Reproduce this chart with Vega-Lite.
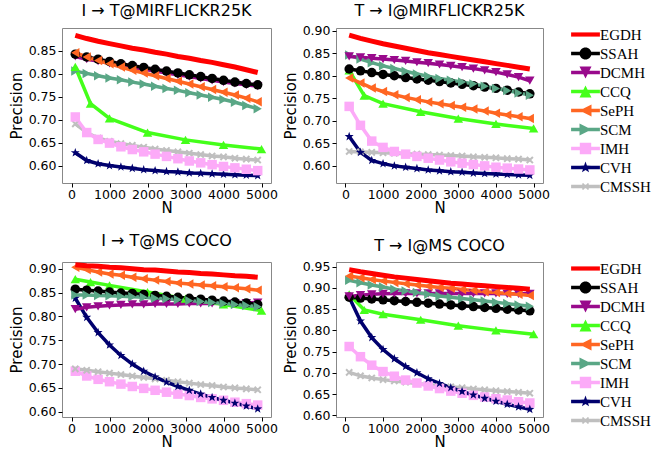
{
"$schema": "https://vega.github.io/schema/vega-lite/v6.json",
"padding": {"left": 8, "top": 2, "right": 2, "bottom": 0},
"config": {
  "font": "DejaVu Sans",
  "view": {"stroke": "#888888", "strokeWidth": 1},
  "axis": {"grid": false, "domain": false, "tickColor": "#000000", "tickSize": 4, "labelFontSize": 12.5, "labelColor": "#000000", "titleFontSize": 15, "titleFontWeight": "normal", "titleColor": "#000000", "labelPadding": 2},
  "axisY": {"titlePadding": 4},
  "axisX": {"titlePadding": 0, "labelPadding": 1},
  "title": {"fontSize": 16, "fontWeight": "normal", "offset": 6, "color": "#000000"},
  "legend": {"title": null}
},
"datasets": {
"tl": [
{"method":"EGDH","N":100,"precision":0.884},{"method":"EGDH","N":400,"precision":0.877},{"method":"EGDH","N":700,"precision":0.871},{"method":"EGDH","N":1000,"precision":0.866},{"method":"EGDH","N":1300,"precision":0.861},{"method":"EGDH","N":1600,"precision":0.856},{"method":"EGDH","N":1900,"precision":0.852},{"method":"EGDH","N":2200,"precision":0.847},{"method":"EGDH","N":2500,"precision":0.843},{"method":"EGDH","N":2800,"precision":0.838},{"method":"EGDH","N":3100,"precision":0.834},{"method":"EGDH","N":3400,"precision":0.829},{"method":"EGDH","N":3700,"precision":0.825},{"method":"EGDH","N":4000,"precision":0.820},{"method":"EGDH","N":4300,"precision":0.815},{"method":"EGDH","N":4600,"precision":0.809},{"method":"EGDH","N":4900,"precision":0.803},
{"method":"CMSSH","N":100,"precision":0.691},{"method":"CMSSH","N":400,"precision":0.672},{"method":"CMSSH","N":700,"precision":0.660},{"method":"CMSSH","N":1000,"precision":0.653},{"method":"CMSSH","N":1300,"precision":0.648},{"method":"CMSSH","N":1600,"precision":0.644},{"method":"CMSSH","N":1900,"precision":0.640},{"method":"CMSSH","N":2200,"precision":0.636},{"method":"CMSSH","N":2500,"precision":0.633},{"method":"CMSSH","N":2800,"precision":0.630},{"method":"CMSSH","N":3100,"precision":0.627},{"method":"CMSSH","N":3400,"precision":0.624},{"method":"CMSSH","N":3700,"precision":0.621},{"method":"CMSSH","N":4000,"precision":0.619},{"method":"CMSSH","N":4300,"precision":0.616},{"method":"CMSSH","N":4600,"precision":0.614},{"method":"CMSSH","N":4900,"precision":0.612},
{"method":"CVH","N":100,"precision":0.628},{"method":"CVH","N":400,"precision":0.611},{"method":"CVH","N":700,"precision":0.604},{"method":"CVH","N":1000,"precision":0.600},{"method":"CVH","N":1300,"precision":0.597},{"method":"CVH","N":1600,"precision":0.594},{"method":"CVH","N":1900,"precision":0.591},{"method":"CVH","N":2200,"precision":0.589},{"method":"CVH","N":2500,"precision":0.587},{"method":"CVH","N":2800,"precision":0.586},{"method":"CVH","N":3100,"precision":0.584},{"method":"CVH","N":3400,"precision":0.583},{"method":"CVH","N":3700,"precision":0.582},{"method":"CVH","N":4000,"precision":0.581},{"method":"CVH","N":4300,"precision":0.580},{"method":"CVH","N":4600,"precision":0.579},{"method":"CVH","N":4900,"precision":0.578},
{"method":"IMH","N":100,"precision":0.706},{"method":"IMH","N":400,"precision":0.672},{"method":"IMH","N":700,"precision":0.657},{"method":"IMH","N":1000,"precision":0.649},{"method":"IMH","N":1300,"precision":0.641},{"method":"IMH","N":1600,"precision":0.635},{"method":"IMH","N":1900,"precision":0.630},{"method":"IMH","N":2200,"precision":0.625},{"method":"IMH","N":2500,"precision":0.620},{"method":"IMH","N":2800,"precision":0.615},{"method":"IMH","N":3100,"precision":0.610},{"method":"IMH","N":3400,"precision":0.606},{"method":"IMH","N":3700,"precision":0.602},{"method":"IMH","N":4000,"precision":0.598},{"method":"IMH","N":4300,"precision":0.595},{"method":"IMH","N":4600,"precision":0.592},{"method":"IMH","N":4900,"precision":0.589},
{"method":"SCM","N":100,"precision":0.806},{"method":"SCM","N":400,"precision":0.801},{"method":"SCM","N":700,"precision":0.796},{"method":"SCM","N":1000,"precision":0.791},{"method":"SCM","N":1300,"precision":0.787},{"method":"SCM","N":1600,"precision":0.782},{"method":"SCM","N":1900,"precision":0.778},{"method":"SCM","N":2200,"precision":0.773},{"method":"SCM","N":2500,"precision":0.768},{"method":"SCM","N":2800,"precision":0.764},{"method":"SCM","N":3100,"precision":0.759},{"method":"SCM","N":3400,"precision":0.754},{"method":"SCM","N":3700,"precision":0.749},{"method":"SCM","N":4000,"precision":0.744},{"method":"SCM","N":4300,"precision":0.738},{"method":"SCM","N":4600,"precision":0.731},{"method":"SCM","N":4900,"precision":0.724},
{"method":"CCQ","N":100,"precision":0.815},{"method":"CCQ","N":500,"precision":0.735},{"method":"CCQ","N":1000,"precision":0.703},{"method":"CCQ","N":2000,"precision":0.672},{"method":"CCQ","N":3000,"precision":0.656},{"method":"CCQ","N":4000,"precision":0.645},{"method":"CCQ","N":5000,"precision":0.636},
{"method":"DCMH","N":100,"precision":0.838},{"method":"DCMH","N":400,"precision":0.832},{"method":"DCMH","N":700,"precision":0.828},{"method":"DCMH","N":1000,"precision":0.823},{"method":"DCMH","N":1300,"precision":0.818},{"method":"DCMH","N":1600,"precision":0.814},{"method":"DCMH","N":1900,"precision":0.810},{"method":"DCMH","N":2200,"precision":0.806},{"method":"DCMH","N":2500,"precision":0.802},{"method":"DCMH","N":2800,"precision":0.798},{"method":"DCMH","N":3100,"precision":0.794},{"method":"DCMH","N":3400,"precision":0.790},{"method":"DCMH","N":3700,"precision":0.786},{"method":"DCMH","N":4000,"precision":0.782},{"method":"DCMH","N":4300,"precision":0.779},{"method":"DCMH","N":4600,"precision":0.776},{"method":"DCMH","N":4900,"precision":0.773},
{"method":"SSAH","N":100,"precision":0.843},{"method":"SSAH","N":400,"precision":0.837},{"method":"SSAH","N":700,"precision":0.832},{"method":"SSAH","N":1000,"precision":0.827},{"method":"SSAH","N":1300,"precision":0.822},{"method":"SSAH","N":1600,"precision":0.818},{"method":"SSAH","N":1900,"precision":0.814},{"method":"SSAH","N":2200,"precision":0.810},{"method":"SSAH","N":2500,"precision":0.806},{"method":"SSAH","N":2800,"precision":0.802},{"method":"SSAH","N":3100,"precision":0.798},{"method":"SSAH","N":3400,"precision":0.794},{"method":"SSAH","N":3700,"precision":0.790},{"method":"SSAH","N":4000,"precision":0.786},{"method":"SSAH","N":4300,"precision":0.782},{"method":"SSAH","N":4600,"precision":0.779},{"method":"SSAH","N":4900,"precision":0.776},
{"method":"SePH","N":100,"precision":0.846},{"method":"SePH","N":400,"precision":0.837},{"method":"SePH","N":700,"precision":0.829},{"method":"SePH","N":1000,"precision":0.822},{"method":"SePH","N":1300,"precision":0.815},{"method":"SePH","N":1600,"precision":0.808},{"method":"SePH","N":1900,"precision":0.802},{"method":"SePH","N":2200,"precision":0.796},{"method":"SePH","N":2500,"precision":0.790},{"method":"SePH","N":2800,"precision":0.784},{"method":"SePH","N":3100,"precision":0.778},{"method":"SePH","N":3400,"precision":0.772},{"method":"SePH","N":3700,"precision":0.766},{"method":"SePH","N":4000,"precision":0.760},{"method":"SePH","N":4300,"precision":0.754},{"method":"SePH","N":4600,"precision":0.747},{"method":"SePH","N":4900,"precision":0.739}
],
"tr": [
{"method":"EGDH","N":100,"precision":0.890},{"method":"EGDH","N":400,"precision":0.883},{"method":"EGDH","N":700,"precision":0.877},{"method":"EGDH","N":1000,"precision":0.871},{"method":"EGDH","N":1300,"precision":0.866},{"method":"EGDH","N":1600,"precision":0.861},{"method":"EGDH","N":1900,"precision":0.856},{"method":"EGDH","N":2200,"precision":0.851},{"method":"EGDH","N":2500,"precision":0.847},{"method":"EGDH","N":2800,"precision":0.843},{"method":"EGDH","N":3100,"precision":0.839},{"method":"EGDH","N":3400,"precision":0.835},{"method":"EGDH","N":3700,"precision":0.831},{"method":"EGDH","N":4000,"precision":0.827},{"method":"EGDH","N":4300,"precision":0.823},{"method":"EGDH","N":4600,"precision":0.819},{"method":"EGDH","N":4900,"precision":0.815},
{"method":"CMSSH","N":100,"precision":0.632},{"method":"CMSSH","N":400,"precision":0.631},{"method":"CMSSH","N":700,"precision":0.630},{"method":"CMSSH","N":1000,"precision":0.629},{"method":"CMSSH","N":1300,"precision":0.628},{"method":"CMSSH","N":1600,"precision":0.627},{"method":"CMSSH","N":1900,"precision":0.626},{"method":"CMSSH","N":2200,"precision":0.625},{"method":"CMSSH","N":2500,"precision":0.624},{"method":"CMSSH","N":2800,"precision":0.623},{"method":"CMSSH","N":3100,"precision":0.622},{"method":"CMSSH","N":3400,"precision":0.620},{"method":"CMSSH","N":3700,"precision":0.619},{"method":"CMSSH","N":4000,"precision":0.618},{"method":"CMSSH","N":4300,"precision":0.616},{"method":"CMSSH","N":4600,"precision":0.615},{"method":"CMSSH","N":4900,"precision":0.613},
{"method":"CVH","N":100,"precision":0.665},{"method":"CVH","N":400,"precision":0.630},{"method":"CVH","N":700,"precision":0.612},{"method":"CVH","N":1000,"precision":0.605},{"method":"CVH","N":1300,"precision":0.600},{"method":"CVH","N":1600,"precision":0.597},{"method":"CVH","N":1900,"precision":0.594},{"method":"CVH","N":2200,"precision":0.591},{"method":"CVH","N":2500,"precision":0.589},{"method":"CVH","N":2800,"precision":0.587},{"method":"CVH","N":3100,"precision":0.586},{"method":"CVH","N":3400,"precision":0.584},{"method":"CVH","N":3700,"precision":0.583},{"method":"CVH","N":4000,"precision":0.582},{"method":"CVH","N":4300,"precision":0.581},{"method":"CVH","N":4600,"precision":0.580},{"method":"CVH","N":4900,"precision":0.579},
{"method":"IMH","N":100,"precision":0.732},{"method":"IMH","N":400,"precision":0.690},{"method":"IMH","N":700,"precision":0.655},{"method":"IMH","N":1000,"precision":0.641},{"method":"IMH","N":1300,"precision":0.632},{"method":"IMH","N":1600,"precision":0.626},{"method":"IMH","N":1900,"precision":0.621},{"method":"IMH","N":2200,"precision":0.617},{"method":"IMH","N":2500,"precision":0.613},{"method":"IMH","N":2800,"precision":0.609},{"method":"IMH","N":3100,"precision":0.606},{"method":"IMH","N":3400,"precision":0.603},{"method":"IMH","N":3700,"precision":0.600},{"method":"IMH","N":4000,"precision":0.597},{"method":"IMH","N":4300,"precision":0.595},{"method":"IMH","N":4600,"precision":0.593},{"method":"IMH","N":4900,"precision":0.591},
{"method":"CCQ","N":100,"precision":0.812},{"method":"CCQ","N":500,"precision":0.756},{"method":"CCQ","N":1000,"precision":0.738},{"method":"CCQ","N":2000,"precision":0.720},{"method":"CCQ","N":3000,"precision":0.705},{"method":"CCQ","N":4000,"precision":0.693},{"method":"CCQ","N":5000,"precision":0.683},
{"method":"SePH","N":100,"precision":0.795},{"method":"SePH","N":400,"precision":0.784},{"method":"SePH","N":700,"precision":0.773},{"method":"SePH","N":1000,"precision":0.765},{"method":"SePH","N":1300,"precision":0.758},{"method":"SePH","N":1600,"precision":0.752},{"method":"SePH","N":1900,"precision":0.747},{"method":"SePH","N":2200,"precision":0.742},{"method":"SePH","N":2500,"precision":0.738},{"method":"SePH","N":2800,"precision":0.734},{"method":"SePH","N":3100,"precision":0.730},{"method":"SePH","N":3400,"precision":0.726},{"method":"SePH","N":3700,"precision":0.722},{"method":"SePH","N":4000,"precision":0.717},{"method":"SePH","N":4300,"precision":0.713},{"method":"SePH","N":4600,"precision":0.709},{"method":"SePH","N":4900,"precision":0.705},
{"method":"SSAH","N":100,"precision":0.815},{"method":"SSAH","N":400,"precision":0.811},{"method":"SSAH","N":700,"precision":0.807},{"method":"SSAH","N":1000,"precision":0.803},{"method":"SSAH","N":1300,"precision":0.800},{"method":"SSAH","N":1600,"precision":0.796},{"method":"SSAH","N":1900,"precision":0.793},{"method":"SSAH","N":2200,"precision":0.790},{"method":"SSAH","N":2500,"precision":0.787},{"method":"SSAH","N":2800,"precision":0.784},{"method":"SSAH","N":3100,"precision":0.781},{"method":"SSAH","N":3400,"precision":0.778},{"method":"SSAH","N":3700,"precision":0.775},{"method":"SSAH","N":4000,"precision":0.772},{"method":"SSAH","N":4300,"precision":0.768},{"method":"SSAH","N":4600,"precision":0.764},{"method":"SSAH","N":4900,"precision":0.760},
{"method":"SCM","N":100,"precision":0.846},{"method":"SCM","N":400,"precision":0.837},{"method":"SCM","N":700,"precision":0.829},{"method":"SCM","N":1000,"precision":0.822},{"method":"SCM","N":1300,"precision":0.816},{"method":"SCM","N":1600,"precision":0.810},{"method":"SCM","N":1900,"precision":0.804},{"method":"SCM","N":2200,"precision":0.799},{"method":"SCM","N":2500,"precision":0.794},{"method":"SCM","N":2800,"precision":0.790},{"method":"SCM","N":3100,"precision":0.786},{"method":"SCM","N":3400,"precision":0.782},{"method":"SCM","N":3700,"precision":0.777},{"method":"SCM","N":4000,"precision":0.772},{"method":"SCM","N":4300,"precision":0.767},{"method":"SCM","N":4600,"precision":0.762},{"method":"SCM","N":4900,"precision":0.757},
{"method":"DCMH","N":100,"precision":0.843},{"method":"DCMH","N":400,"precision":0.841},{"method":"DCMH","N":700,"precision":0.839},{"method":"DCMH","N":1000,"precision":0.837},{"method":"DCMH","N":1300,"precision":0.835},{"method":"DCMH","N":1600,"precision":0.833},{"method":"DCMH","N":1900,"precision":0.830},{"method":"DCMH","N":2200,"precision":0.828},{"method":"DCMH","N":2500,"precision":0.825},{"method":"DCMH","N":2800,"precision":0.822},{"method":"DCMH","N":3100,"precision":0.819},{"method":"DCMH","N":3400,"precision":0.816},{"method":"DCMH","N":3700,"precision":0.812},{"method":"DCMH","N":4000,"precision":0.808},{"method":"DCMH","N":4300,"precision":0.803},{"method":"DCMH","N":4600,"precision":0.797},{"method":"DCMH","N":4900,"precision":0.789}
],
"bl": [
{"method":"EGDH","N":100,"precision":0.908},{"method":"EGDH","N":400,"precision":0.906},{"method":"EGDH","N":700,"precision":0.905},{"method":"EGDH","N":1000,"precision":0.903},{"method":"EGDH","N":1300,"precision":0.902},{"method":"EGDH","N":1600,"precision":0.900},{"method":"EGDH","N":1900,"precision":0.898},{"method":"EGDH","N":2200,"precision":0.897},{"method":"EGDH","N":2500,"precision":0.895},{"method":"EGDH","N":2800,"precision":0.893},{"method":"EGDH","N":3100,"precision":0.892},{"method":"EGDH","N":3400,"precision":0.890},{"method":"EGDH","N":3700,"precision":0.889},{"method":"EGDH","N":4000,"precision":0.887},{"method":"EGDH","N":4300,"precision":0.885},{"method":"EGDH","N":4600,"precision":0.884},{"method":"EGDH","N":4900,"precision":0.882},
{"method":"IMH","N":100,"precision":0.685},{"method":"IMH","N":400,"precision":0.675},{"method":"IMH","N":700,"precision":0.668},{"method":"IMH","N":1000,"precision":0.663},{"method":"IMH","N":1300,"precision":0.658},{"method":"IMH","N":1600,"precision":0.653},{"method":"IMH","N":1900,"precision":0.649},{"method":"IMH","N":2200,"precision":0.645},{"method":"IMH","N":2500,"precision":0.641},{"method":"IMH","N":2800,"precision":0.637},{"method":"IMH","N":3100,"precision":0.634},{"method":"IMH","N":3400,"precision":0.630},{"method":"IMH","N":3700,"precision":0.627},{"method":"IMH","N":4000,"precision":0.624},{"method":"IMH","N":4300,"precision":0.620},{"method":"IMH","N":4600,"precision":0.617},{"method":"IMH","N":4900,"precision":0.614},
{"method":"CMSSH","N":100,"precision":0.690},{"method":"CMSSH","N":400,"precision":0.687},{"method":"CMSSH","N":700,"precision":0.684},{"method":"CMSSH","N":1000,"precision":0.681},{"method":"CMSSH","N":1300,"precision":0.678},{"method":"CMSSH","N":1600,"precision":0.675},{"method":"CMSSH","N":1900,"precision":0.672},{"method":"CMSSH","N":2200,"precision":0.669},{"method":"CMSSH","N":2500,"precision":0.666},{"method":"CMSSH","N":2800,"precision":0.663},{"method":"CMSSH","N":3100,"precision":0.660},{"method":"CMSSH","N":3400,"precision":0.657},{"method":"CMSSH","N":3700,"precision":0.655},{"method":"CMSSH","N":4000,"precision":0.652},{"method":"CMSSH","N":4300,"precision":0.650},{"method":"CMSSH","N":4600,"precision":0.648},{"method":"CMSSH","N":4900,"precision":0.646},
{"method":"CVH","N":100,"precision":0.838},{"method":"CVH","N":400,"precision":0.798},{"method":"CVH","N":700,"precision":0.766},{"method":"CVH","N":1000,"precision":0.740},{"method":"CVH","N":1300,"precision":0.718},{"method":"CVH","N":1600,"precision":0.700},{"method":"CVH","N":1900,"precision":0.685},{"method":"CVH","N":2200,"precision":0.673},{"method":"CVH","N":2500,"precision":0.662},{"method":"CVH","N":2800,"precision":0.653},{"method":"CVH","N":3100,"precision":0.645},{"method":"CVH","N":3400,"precision":0.637},{"method":"CVH","N":3700,"precision":0.630},{"method":"CVH","N":4000,"precision":0.624},{"method":"CVH","N":4300,"precision":0.618},{"method":"CVH","N":4600,"precision":0.612},{"method":"CVH","N":4900,"precision":0.606},
{"method":"DCMH","N":100,"precision":0.815},{"method":"DCMH","N":400,"precision":0.819},{"method":"DCMH","N":700,"precision":0.821},{"method":"DCMH","N":1000,"precision":0.823},{"method":"DCMH","N":1300,"precision":0.824},{"method":"DCMH","N":1600,"precision":0.825},{"method":"DCMH","N":1900,"precision":0.825},{"method":"DCMH","N":2200,"precision":0.826},{"method":"DCMH","N":2500,"precision":0.826},{"method":"DCMH","N":2800,"precision":0.826},{"method":"DCMH","N":3100,"precision":0.827},{"method":"DCMH","N":3400,"precision":0.827},{"method":"DCMH","N":3700,"precision":0.827},{"method":"DCMH","N":4000,"precision":0.828},{"method":"DCMH","N":4300,"precision":0.828},{"method":"DCMH","N":4600,"precision":0.828},{"method":"DCMH","N":4900,"precision":0.829},
{"method":"CCQ","N":100,"precision":0.878},{"method":"CCQ","N":500,"precision":0.872},{"method":"CCQ","N":1000,"precision":0.865},{"method":"CCQ","N":2000,"precision":0.851},{"method":"CCQ","N":3000,"precision":0.837},{"method":"CCQ","N":4000,"precision":0.825},{"method":"CCQ","N":5000,"precision":0.812},
{"method":"SSAH","N":100,"precision":0.857},{"method":"SSAH","N":400,"precision":0.855},{"method":"SSAH","N":700,"precision":0.853},{"method":"SSAH","N":1000,"precision":0.851},{"method":"SSAH","N":1300,"precision":0.849},{"method":"SSAH","N":1600,"precision":0.848},{"method":"SSAH","N":1900,"precision":0.846},{"method":"SSAH","N":2200,"precision":0.844},{"method":"SSAH","N":2500,"precision":0.842},{"method":"SSAH","N":2800,"precision":0.840},{"method":"SSAH","N":3100,"precision":0.838},{"method":"SSAH","N":3400,"precision":0.836},{"method":"SSAH","N":3700,"precision":0.834},{"method":"SSAH","N":4000,"precision":0.832},{"method":"SSAH","N":4300,"precision":0.830},{"method":"SSAH","N":4600,"precision":0.828},{"method":"SSAH","N":4900,"precision":0.825},
{"method":"SCM","N":100,"precision":0.845},{"method":"SCM","N":400,"precision":0.845},{"method":"SCM","N":700,"precision":0.844},{"method":"SCM","N":1000,"precision":0.843},{"method":"SCM","N":1300,"precision":0.842},{"method":"SCM","N":1600,"precision":0.841},{"method":"SCM","N":1900,"precision":0.840},{"method":"SCM","N":2200,"precision":0.838},{"method":"SCM","N":2500,"precision":0.837},{"method":"SCM","N":2800,"precision":0.835},{"method":"SCM","N":3100,"precision":0.833},{"method":"SCM","N":3400,"precision":0.831},{"method":"SCM","N":3700,"precision":0.829},{"method":"SCM","N":4000,"precision":0.827},{"method":"SCM","N":4300,"precision":0.825},{"method":"SCM","N":4600,"precision":0.823},{"method":"SCM","N":4900,"precision":0.820},
{"method":"SePH","N":100,"precision":0.903},{"method":"SePH","N":400,"precision":0.898},{"method":"SePH","N":700,"precision":0.893},{"method":"SePH","N":1000,"precision":0.889},{"method":"SePH","N":1300,"precision":0.886},{"method":"SePH","N":1600,"precision":0.882},{"method":"SePH","N":1900,"precision":0.879},{"method":"SePH","N":2200,"precision":0.876},{"method":"SePH","N":2500,"precision":0.873},{"method":"SePH","N":2800,"precision":0.870},{"method":"SePH","N":3100,"precision":0.868},{"method":"SePH","N":3400,"precision":0.866},{"method":"SePH","N":3700,"precision":0.864},{"method":"SePH","N":4000,"precision":0.862},{"method":"SePH","N":4300,"precision":0.860},{"method":"SePH","N":4600,"precision":0.858},{"method":"SePH","N":4900,"precision":0.855}
],
"br": [
{"method":"EGDH","N":100,"precision":0.943},{"method":"EGDH","N":400,"precision":0.938},{"method":"EGDH","N":700,"precision":0.934},{"method":"EGDH","N":1000,"precision":0.930},{"method":"EGDH","N":1300,"precision":0.926},{"method":"EGDH","N":1600,"precision":0.923},{"method":"EGDH","N":1900,"precision":0.920},{"method":"EGDH","N":2200,"precision":0.917},{"method":"EGDH","N":2500,"precision":0.914},{"method":"EGDH","N":2800,"precision":0.911},{"method":"EGDH","N":3100,"precision":0.909},{"method":"EGDH","N":3400,"precision":0.907},{"method":"EGDH","N":3700,"precision":0.905},{"method":"EGDH","N":4000,"precision":0.903},{"method":"EGDH","N":4300,"precision":0.901},{"method":"EGDH","N":4600,"precision":0.899},{"method":"EGDH","N":4900,"precision":0.897},
{"method":"CMSSH","N":100,"precision":0.701},{"method":"CMSSH","N":400,"precision":0.693},{"method":"CMSSH","N":700,"precision":0.688},{"method":"CMSSH","N":1000,"precision":0.684},{"method":"CMSSH","N":1300,"precision":0.681},{"method":"CMSSH","N":1600,"precision":0.678},{"method":"CMSSH","N":1900,"precision":0.675},{"method":"CMSSH","N":2200,"precision":0.672},{"method":"CMSSH","N":2500,"precision":0.670},{"method":"CMSSH","N":2800,"precision":0.667},{"method":"CMSSH","N":3100,"precision":0.665},{"method":"CMSSH","N":3400,"precision":0.662},{"method":"CMSSH","N":3700,"precision":0.660},{"method":"CMSSH","N":4000,"precision":0.658},{"method":"CMSSH","N":4300,"precision":0.656},{"method":"CMSSH","N":4600,"precision":0.654},{"method":"CMSSH","N":4900,"precision":0.652},
{"method":"IMH","N":100,"precision":0.762},{"method":"IMH","N":400,"precision":0.738},{"method":"IMH","N":700,"precision":0.718},{"method":"IMH","N":1000,"precision":0.703},{"method":"IMH","N":1300,"precision":0.692},{"method":"IMH","N":1600,"precision":0.683},{"method":"IMH","N":1900,"precision":0.676},{"method":"IMH","N":2200,"precision":0.669},{"method":"IMH","N":2500,"precision":0.663},{"method":"IMH","N":2800,"precision":0.657},{"method":"IMH","N":3100,"precision":0.652},{"method":"IMH","N":3400,"precision":0.647},{"method":"IMH","N":3700,"precision":0.643},{"method":"IMH","N":4000,"precision":0.639},{"method":"IMH","N":4300,"precision":0.636},{"method":"IMH","N":4600,"precision":0.632},{"method":"IMH","N":4900,"precision":0.629},
{"method":"CVH","N":100,"precision":0.878},{"method":"CVH","N":400,"precision":0.822},{"method":"CVH","N":700,"precision":0.783},{"method":"CVH","N":1000,"precision":0.755},{"method":"CVH","N":1300,"precision":0.733},{"method":"CVH","N":1600,"precision":0.715},{"method":"CVH","N":1900,"precision":0.700},{"method":"CVH","N":2200,"precision":0.686},{"method":"CVH","N":2500,"precision":0.675},{"method":"CVH","N":2800,"precision":0.665},{"method":"CVH","N":3100,"precision":0.656},{"method":"CVH","N":3400,"precision":0.648},{"method":"CVH","N":3700,"precision":0.640},{"method":"CVH","N":4000,"precision":0.633},{"method":"CVH","N":4300,"precision":0.626},{"method":"CVH","N":4600,"precision":0.620},{"method":"CVH","N":4900,"precision":0.614},
{"method":"CCQ","N":100,"precision":0.885},{"method":"CCQ","N":500,"precision":0.848},{"method":"CCQ","N":1000,"precision":0.838},{"method":"CCQ","N":2000,"precision":0.825},{"method":"CCQ","N":3000,"precision":0.811},{"method":"CCQ","N":4000,"precision":0.800},{"method":"CCQ","N":5000,"precision":0.791},
{"method":"SSAH","N":100,"precision":0.878},{"method":"SSAH","N":400,"precision":0.876},{"method":"SSAH","N":700,"precision":0.874},{"method":"SSAH","N":1000,"precision":0.872},{"method":"SSAH","N":1300,"precision":0.870},{"method":"SSAH","N":1600,"precision":0.868},{"method":"SSAH","N":1900,"precision":0.866},{"method":"SSAH","N":2200,"precision":0.864},{"method":"SSAH","N":2500,"precision":0.862},{"method":"SSAH","N":2800,"precision":0.860},{"method":"SSAH","N":3100,"precision":0.858},{"method":"SSAH","N":3400,"precision":0.856},{"method":"SSAH","N":3700,"precision":0.854},{"method":"SSAH","N":4000,"precision":0.852},{"method":"SSAH","N":4300,"precision":0.850},{"method":"SSAH","N":4600,"precision":0.848},{"method":"SSAH","N":4900,"precision":0.846},
{"method":"DCMH","N":100,"precision":0.880},{"method":"DCMH","N":400,"precision":0.883},{"method":"DCMH","N":700,"precision":0.885},{"method":"DCMH","N":1000,"precision":0.886},{"method":"DCMH","N":1300,"precision":0.887},{"method":"DCMH","N":1600,"precision":0.887},{"method":"DCMH","N":1900,"precision":0.887},{"method":"DCMH","N":2200,"precision":0.887},{"method":"DCMH","N":2500,"precision":0.887},{"method":"DCMH","N":2800,"precision":0.887},{"method":"DCMH","N":3100,"precision":0.887},{"method":"DCMH","N":3400,"precision":0.887},{"method":"DCMH","N":3700,"precision":0.887},{"method":"DCMH","N":4000,"precision":0.887},{"method":"DCMH","N":4300,"precision":0.886},{"method":"DCMH","N":4600,"precision":0.886},{"method":"DCMH","N":4900,"precision":0.886},
{"method":"SCM","N":100,"precision":0.918},{"method":"SCM","N":400,"precision":0.912},{"method":"SCM","N":700,"precision":0.907},{"method":"SCM","N":1000,"precision":0.902},{"method":"SCM","N":1300,"precision":0.897},{"method":"SCM","N":1600,"precision":0.893},{"method":"SCM","N":1900,"precision":0.889},{"method":"SCM","N":2200,"precision":0.885},{"method":"SCM","N":2500,"precision":0.881},{"method":"SCM","N":2800,"precision":0.878},{"method":"SCM","N":3100,"precision":0.875},{"method":"SCM","N":3400,"precision":0.872},{"method":"SCM","N":3700,"precision":0.869},{"method":"SCM","N":4000,"precision":0.866},{"method":"SCM","N":4300,"precision":0.863},{"method":"SCM","N":4600,"precision":0.860},{"method":"SCM","N":4900,"precision":0.857},
{"method":"SePH","N":100,"precision":0.928},{"method":"SePH","N":400,"precision":0.924},{"method":"SePH","N":700,"precision":0.920},{"method":"SePH","N":1000,"precision":0.916},{"method":"SePH","N":1300,"precision":0.913},{"method":"SePH","N":1600,"precision":0.910},{"method":"SePH","N":1900,"precision":0.907},{"method":"SePH","N":2200,"precision":0.904},{"method":"SePH","N":2500,"precision":0.901},{"method":"SePH","N":2800,"precision":0.899},{"method":"SePH","N":3100,"precision":0.896},{"method":"SePH","N":3400,"precision":0.894},{"method":"SePH","N":3700,"precision":0.891},{"method":"SePH","N":4000,"precision":0.889},{"method":"SePH","N":4300,"precision":0.887},{"method":"SePH","N":4600,"precision":0.885},{"method":"SePH","N":4900,"precision":0.882}
]
},
"vconcat": [
{
"hconcat": [
{
"data": {"name": "tl"}, "width": 209, "height": 155, "title": "I → T@MIRFLICKR25K",
"encoding": {
"x": {"field": "N", "type": "quantitative", "scale": {"domain": [-250, 5250], "nice": false, "zero": false}, "axis": {"values": [0,1000,2000,3000,4000,5000], "format": "d", "title": "N"}},
"y": {"field": "precision", "type": "quantitative", "scale": {"domain": [0.562, 0.9], "nice": false, "zero": false}, "axis": {"values": [0.6,0.65,0.7,0.75,0.8,0.85], "format": ".2f", "title": "Precision"}},
"color": {"field": "method", "type": "nominal", "scale": {"domain": ["EGDH","SSAH","DCMH","CCQ","SePH","SCM","IMH","CVH","CMSSH"], "range": ["#ff0000","#000000","#990a8c","#44ff1a","#ff6622","#5aa786","#fcaaf8","#00006e","#bfbfbf"]},
  "legend": {"orient": "none", "legendX": 516, "legendY": -1, "padding": 0, "labelFont": "Liberation Serif", "labelFontSize": 15, "labelColor": "#000000", "symbolSize": 144, "rowPadding": 3, "labelOffset": 7,
   "encode": {"symbols": {"update": {
     "shape": {"signal": "['M-2.4,-0.35H2.4V0.35H-2.4Z','M-2.4,-0.3H2.4V0.3H-2.4ZM-1,0A1,1 0 1,1 1,0A1,1 0 1,1 -1,0Z','M-2.4,-0.3H2.4V0.3H-2.4ZM-1,-1L1,-1L0,1Z','M-2.4,-0.3H2.4V0.3H-2.4ZM-1,1L0,-1L1,1Z','M-2.4,-0.3H2.4V0.3H-2.4ZM1,-1L1,1L-1,0Z','M-2.4,-0.3H2.4V0.3H-2.4ZM-1,-1L1,0L-1,1Z','M-2.4,-0.3H2.4V0.3H-2.4ZM-0.95,-0.95H0.95V0.95H-0.95Z','M-2.4,-0.3H2.4V0.3H-2.4ZM0,-1L0.235,-0.324L0.951,-0.309L0.38,0.124L0.588,0.809L0,0.4L-0.588,0.809L-0.38,0.124L-0.951,-0.309L-0.235,-0.324Z','M-2.4,-0.3H2.4V0.3H-2.4ZM-0.6,-0.4L-0.4,-0.6L0,-0.2L0.4,-0.6L0.6,-0.4L0.2,0L0.6,0.4L0.4,0.6L0,0.2L-0.4,0.6L-0.6,0.4L-0.2,0Z'][indexof(['EGDH','SSAH','DCMH','CCQ','SePH','SCM','IMH','CVH','CMSSH'], datum.value)]"},
     "fill": {"signal": "['#ff0000','#000000','#990a8c','#44ff1a','#ff6622','#5aa786','#fcaaf8','#00006e','#bfbfbf'][indexof(['EGDH','SSAH','DCMH','CCQ','SePH','SCM','IMH','CVH','CMSSH'], datum.value)]"},
     "stroke": {"value": "transparent"}, "strokeWidth": {"value": 0}, "opacity": {"value": 1}, "size": {"value": 144}}}}}}
},
"layer": [
{"transform": [{"filter": "datum.method !== 'EGDH'"}], "mark": {"type": "line", "strokeWidth": 3.5}},
{"transform": [{"filter": "datum.method !== 'EGDH'"}], "mark": {"type": "point", "filled": true, "opacity": 1, "size": 90},
 "encoding": {"shape": {"field": "method", "type": "nominal", "legend": null, "scale": {"domain": ["SSAH","DCMH","CCQ","SePH","SCM","IMH","CVH","CMSSH"], "range": ["circle","triangle-down","triangle-up","triangle-left","triangle-right","square","M0,-1L0.235,-0.324L0.951,-0.309L0.38,0.124L0.588,0.809L0,0.4L-0.588,0.809L-0.38,0.124L-0.951,-0.309L-0.235,-0.324Z","M-0.8,-0.5L-0.5,-0.8L0,-0.3L0.5,-0.8L0.8,-0.5L0.3,0L0.8,0.5L0.5,0.8L0,0.3L-0.5,0.8L-0.8,0.5L-0.3,0Z"]}}}},
{"transform": [{"filter": "datum.method === 'EGDH'"}], "mark": {"type": "line", "strokeWidth": 5}}
]
},
{
"data": {"name": "tr"}, "width": 207, "height": 155, "title": "T → I@MIRFLICKR25K",
"encoding": {
"x": {"field": "N", "type": "quantitative", "scale": {"domain": [-250, 5250], "nice": false, "zero": false}, "axis": {"values": [0,1000,2000,3000,4000,5000], "format": "d", "title": "N"}},
"y": {"field": "precision", "type": "quantitative", "scale": {"domain": [0.562, 0.906], "nice": false, "zero": false}, "axis": {"values": [0.6,0.65,0.7,0.75,0.8,0.85,0.9], "format": ".2f", "title": "Precision"}},
"color": {"field": "method", "type": "nominal"}
},
"layer": [
{"transform": [{"filter": "datum.method !== 'EGDH'"}], "mark": {"type": "line", "strokeWidth": 3.5}},
{"transform": [{"filter": "datum.method !== 'EGDH'"}], "mark": {"type": "point", "filled": true, "opacity": 1, "size": 90},
 "encoding": {"shape": {"field": "method", "type": "nominal", "legend": null, "scale": {"domain": ["SSAH","DCMH","CCQ","SePH","SCM","IMH","CVH","CMSSH"], "range": ["circle","triangle-down","triangle-up","triangle-left","triangle-right","square","M0,-1L0.235,-0.324L0.951,-0.309L0.38,0.124L0.588,0.809L0,0.4L-0.588,0.809L-0.38,0.124L-0.951,-0.309L-0.235,-0.324Z","M-0.8,-0.5L-0.5,-0.8L0,-0.3L0.5,-0.8L0.8,-0.5L0.3,0L0.8,0.5L0.5,0.8L0,0.3L-0.5,0.8L-0.8,0.5L-0.3,0Z"]}}}},
{"transform": [{"filter": "datum.method === 'EGDH'"}], "mark": {"type": "line", "strokeWidth": 5}}
]
}
],
"spacing": 4,
"resolve": {"scale": {"y": "independent", "x": "independent"}}
},
{
"hconcat": [
{
"data": {"name": "bl"}, "width": 209, "height": 155, "title": "I → T@MS COCO",
"encoding": {
"x": {"field": "N", "type": "quantitative", "scale": {"domain": [-250, 5250], "nice": false, "zero": false}, "axis": {"values": [0,1000,2000,3000,4000,5000], "format": "d", "title": "N"}},
"y": {"field": "precision", "type": "quantitative", "scale": {"domain": [0.589, 0.914], "nice": false, "zero": false}, "axis": {"values": [0.6,0.65,0.7,0.75,0.8,0.85,0.9], "format": ".2f", "title": "Precision"}},
"color": {"field": "method", "type": "nominal",
  "legend": {"orient": "none", "legendX": 516, "legendY": -1, "padding": 0, "labelFont": "Liberation Serif", "labelFontSize": 15, "labelColor": "#000000", "symbolSize": 144, "rowPadding": 3, "labelOffset": 7,
   "encode": {"symbols": {"update": {
     "shape": {"signal": "['M-2.4,-0.35H2.4V0.35H-2.4Z','M-2.4,-0.3H2.4V0.3H-2.4ZM-1,0A1,1 0 1,1 1,0A1,1 0 1,1 -1,0Z','M-2.4,-0.3H2.4V0.3H-2.4ZM-1,-1L1,-1L0,1Z','M-2.4,-0.3H2.4V0.3H-2.4ZM-1,1L0,-1L1,1Z','M-2.4,-0.3H2.4V0.3H-2.4ZM1,-1L1,1L-1,0Z','M-2.4,-0.3H2.4V0.3H-2.4ZM-1,-1L1,0L-1,1Z','M-2.4,-0.3H2.4V0.3H-2.4ZM-0.95,-0.95H0.95V0.95H-0.95Z','M-2.4,-0.3H2.4V0.3H-2.4ZM0,-1L0.235,-0.324L0.951,-0.309L0.38,0.124L0.588,0.809L0,0.4L-0.588,0.809L-0.38,0.124L-0.951,-0.309L-0.235,-0.324Z','M-2.4,-0.3H2.4V0.3H-2.4ZM-0.6,-0.4L-0.4,-0.6L0,-0.2L0.4,-0.6L0.6,-0.4L0.2,0L0.6,0.4L0.4,0.6L0,0.2L-0.4,0.6L-0.6,0.4L-0.2,0Z'][indexof(['EGDH','SSAH','DCMH','CCQ','SePH','SCM','IMH','CVH','CMSSH'], datum.value)]"},
     "fill": {"signal": "['#ff0000','#000000','#990a8c','#44ff1a','#ff6622','#5aa786','#fcaaf8','#00006e','#bfbfbf'][indexof(['EGDH','SSAH','DCMH','CCQ','SePH','SCM','IMH','CVH','CMSSH'], datum.value)]"},
     "stroke": {"value": "transparent"}, "strokeWidth": {"value": 0}, "opacity": {"value": 1}, "size": {"value": 144}}}}}}
},
"layer": [
{"transform": [{"filter": "datum.method !== 'EGDH'"}], "mark": {"type": "line", "strokeWidth": 3.5}},
{"transform": [{"filter": "datum.method !== 'EGDH'"}], "mark": {"type": "point", "filled": true, "opacity": 1, "size": 90},
 "encoding": {"shape": {"field": "method", "type": "nominal", "legend": null, "scale": {"domain": ["SSAH","DCMH","CCQ","SePH","SCM","IMH","CVH","CMSSH"], "range": ["circle","triangle-down","triangle-up","triangle-left","triangle-right","square","M0,-1L0.235,-0.324L0.951,-0.309L0.38,0.124L0.588,0.809L0,0.4L-0.588,0.809L-0.38,0.124L-0.951,-0.309L-0.235,-0.324Z","M-0.8,-0.5L-0.5,-0.8L0,-0.3L0.5,-0.8L0.8,-0.5L0.3,0L0.8,0.5L0.5,0.8L0,0.3L-0.5,0.8L-0.8,0.5L-0.3,0Z"]}}}},
{"transform": [{"filter": "datum.method === 'EGDH'"}], "mark": {"type": "line", "strokeWidth": 5}}
]
},
{
"data": {"name": "br"}, "width": 207, "height": 155, "title": "T → I@MS COCO",
"encoding": {
"x": {"field": "N", "type": "quantitative", "scale": {"domain": [-250, 5250], "nice": false, "zero": false}, "axis": {"values": [0,1000,2000,3000,4000,5000], "format": "d", "title": "N"}},
"y": {"field": "precision", "type": "quantitative", "scale": {"domain": [0.596, 0.961], "nice": false, "zero": false}, "axis": {"values": [0.6,0.65,0.7,0.75,0.8,0.85,0.9,0.95], "format": ".2f", "title": "Precision"}},
"color": {"field": "method", "type": "nominal"}
},
"layer": [
{"transform": [{"filter": "datum.method !== 'EGDH'"}], "mark": {"type": "line", "strokeWidth": 3.5}},
{"transform": [{"filter": "datum.method !== 'EGDH'"}], "mark": {"type": "point", "filled": true, "opacity": 1, "size": 90},
 "encoding": {"shape": {"field": "method", "type": "nominal", "legend": null, "scale": {"domain": ["SSAH","DCMH","CCQ","SePH","SCM","IMH","CVH","CMSSH"], "range": ["circle","triangle-down","triangle-up","triangle-left","triangle-right","square","M0,-1L0.235,-0.324L0.951,-0.309L0.38,0.124L0.588,0.809L0,0.4L-0.588,0.809L-0.38,0.124L-0.951,-0.309L-0.235,-0.324Z","M-0.8,-0.5L-0.5,-0.8L0,-0.3L0.5,-0.8L0.8,-0.5L0.3,0L0.8,0.5L0.5,0.8L0,0.3L-0.5,0.8L-0.8,0.5L-0.3,0Z"]}}}},
{"transform": [{"filter": "datum.method === 'EGDH'"}], "mark": {"type": "line", "strokeWidth": 5}}
]
}
],
"spacing": 4,
"resolve": {"scale": {"y": "independent", "x": "independent"}}
}
],
"spacing": 16,
"resolve": {"legend": {"color": "independent"}}
}
